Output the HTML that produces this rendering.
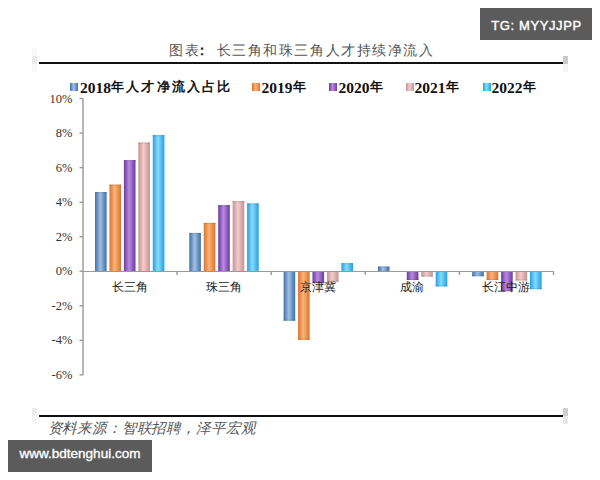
<!DOCTYPE html>
<html><head><meta charset="utf-8">
<style>
html,body{margin:0;padding:0;background:#fff;}
body{width:600px;height:480px;position:relative;overflow:hidden;font-family:"Liberation Serif",serif;}
.abs{position:absolute;}
.tg{position:absolute;left:480px;top:8px;width:112px;height:32px;background:#5b5b5b;color:#fff;font-family:"Liberation Sans",sans-serif;font-weight:normal;font-size:13px;line-height:35px;text-align:center;letter-spacing:0.6px;text-indent:1px;-webkit-text-stroke:0.4px #fff;}
.wm{position:absolute;left:8px;top:440px;width:144px;height:32px;background:#5b5b5b;color:#fff;font-family:"Liberation Sans",sans-serif;font-weight:normal;font-size:13.5px;line-height:28.5px;text-align:center;-webkit-text-stroke:0.35px #fff;}
.title{position:absolute;left:169px;top:43px;font-size:14px;line-height:16px;color:#555;letter-spacing:1.55px;font-weight:350;white-space:nowrap;}
.hl{position:absolute;left:39px;width:524px;height:2px;background:#111;}
.gm{position:absolute;width:5px;}
.yl{position:absolute;left:0;width:72.3px;text-align:right;font-size:12.5px;line-height:14px;color:#333;}
.cl{position:absolute;top:280px;width:80px;text-align:center;font-size:12px;line-height:14px;color:#222;letter-spacing:0px;font-weight:500;}
.lg{position:absolute;top:79px;font-size:15.5px;line-height:16px;font-weight:bold;color:#111;white-space:nowrap;}
.cj{font-size:13px;letter-spacing:2.2px;vertical-align:1.5px;}
.sq{position:absolute;top:82.5px;width:8px;height:8px;}
.src{position:absolute;left:47.5px;top:419.8px;font-size:14.5px;letter-spacing:-0.15px;line-height:16px;color:#555;font-style:italic;font-weight:350;white-space:nowrap;}
</style></head><body>
<div class="tg">TG: MYYJJPP</div>
<div class="title">图表<span style="position:relative;left:-5px;margin-right:1px;font-weight:bold;color:#222">：</span>长三角和珠三角人才持续净流入</div>
<div class="gm" style="left:32px;top:48px;height:24px;background:#f8f8f8"></div>
<div class="gm" style="left:32px;top:56px;height:8px;background:#ebebeb"></div>
<div class="gm" style="left:563px;top:64px;height:8px;background:#f5f5f5"></div>
<div class="gm" style="left:563px;top:56px;height:8px;background:#cacaca"></div>
<div class="hl" style="top:62px"></div>

<div class="sq" style="left:70px;background:linear-gradient(90deg,#3f6fae,#a0c0e0 45%,#3f6fae)"></div>
<div class="lg" style="left:80px">2018<span class="cj">年人才净流入占比</span></div>
<div class="sq" style="left:252px;background:linear-gradient(90deg,#dc742a,#fab47e 45%,#dc742a)"></div>
<div class="lg" style="left:261.5px">2019<span class="cj">年</span></div>
<div class="sq" style="left:329px;background:linear-gradient(90deg,#6a3a9e,#ba8ae2 45%,#6a3a9e)"></div>
<div class="lg" style="left:338.5px">2020<span class="cj">年</span></div>
<div class="sq" style="left:405.5px;background:linear-gradient(90deg,#c49294,#f4cccc 45%,#c49294)"></div>
<div class="lg" style="left:414.5px">2021<span class="cj">年</span></div>
<div class="sq" style="left:482.5px;background:linear-gradient(90deg,#24a0e0,#86dcff 45%,#24a0e0)"></div>
<div class="lg" style="left:491.5px">2022<span class="cj">年</span></div>

<div class="yl" style="top:91.50px">10%</div><div class="yl" style="top:126.05px">8%</div><div class="yl" style="top:160.60px">6%</div><div class="yl" style="top:195.15px">4%</div><div class="yl" style="top:229.70px">2%</div><div class="yl" style="top:264.25px">0%</div><div class="yl" style="top:298.80px">-2%</div><div class="yl" style="top:333.35px">-4%</div><div class="yl" style="top:367.90px">-6%</div>
<svg class="abs" style="left:0;top:0" width="600" height="480" viewBox="0 0 600 480">
<defs>
<linearGradient id="gb" x1="0" x2="1" y1="0" y2="0">
<stop offset="0" stop-color="#3f6fae"/><stop offset="0.45" stop-color="#a0c0e0"/><stop offset="1" stop-color="#3f6fae"/></linearGradient>
<linearGradient id="go" x1="0" x2="1" y1="0" y2="0">
<stop offset="0" stop-color="#dc742a"/><stop offset="0.45" stop-color="#fab47e"/><stop offset="1" stop-color="#dc742a"/></linearGradient>
<linearGradient id="gp" x1="0" x2="1" y1="0" y2="0">
<stop offset="0" stop-color="#6a3a9e"/><stop offset="0.45" stop-color="#ba8ae2"/><stop offset="1" stop-color="#6a3a9e"/></linearGradient>
<linearGradient id="gk" x1="0" x2="1" y1="0" y2="0">
<stop offset="0" stop-color="#c49294"/><stop offset="0.45" stop-color="#f4cccc"/><stop offset="1" stop-color="#c49294"/></linearGradient>
<linearGradient id="gc" x1="0" x2="1" y1="0" y2="0">
<stop offset="0" stop-color="#24a0e0"/><stop offset="0.45" stop-color="#86dcff"/><stop offset="1" stop-color="#24a0e0"/></linearGradient>
</defs>
<rect x="95.00" y="192.05" width="11.6" height="79.35" fill="url(#gb)"/><rect x="95.00" y="192.05" width="11.6" height="1.2" fill="url(#gb)" opacity="0.6" style="filter:brightness(0.85)"/><rect x="109.45" y="184.63" width="11.6" height="86.77" fill="url(#go)"/><rect x="109.45" y="184.63" width="11.6" height="1.2" fill="url(#go)" opacity="0.6" style="filter:brightness(0.85)"/><rect x="123.90" y="160.14" width="11.6" height="111.26" fill="url(#gp)"/><rect x="123.90" y="160.14" width="11.6" height="1.2" fill="url(#gp)" opacity="0.6" style="filter:brightness(0.85)"/><rect x="138.35" y="142.54" width="11.6" height="128.86" fill="url(#gk)"/><rect x="138.35" y="142.54" width="11.6" height="1.2" fill="url(#gk)" opacity="0.6" style="filter:brightness(0.85)"/><rect x="152.80" y="135.12" width="11.6" height="136.28" fill="url(#gc)"/><rect x="152.80" y="135.12" width="11.6" height="1.2" fill="url(#gc)" opacity="0.6" style="filter:brightness(0.85)"/><rect x="189.30" y="232.93" width="11.6" height="38.47" fill="url(#gb)"/><rect x="189.30" y="232.93" width="11.6" height="1.2" fill="url(#gb)" opacity="0.6" style="filter:brightness(0.85)"/><rect x="203.75" y="222.93" width="11.6" height="48.47" fill="url(#go)"/><rect x="203.75" y="222.93" width="11.6" height="1.2" fill="url(#go)" opacity="0.6" style="filter:brightness(0.85)"/><rect x="218.20" y="205.16" width="11.6" height="66.24" fill="url(#gp)"/><rect x="218.20" y="205.16" width="11.6" height="1.2" fill="url(#gp)" opacity="0.6" style="filter:brightness(0.85)"/><rect x="232.65" y="201.02" width="11.6" height="70.38" fill="url(#gk)"/><rect x="232.65" y="201.02" width="11.6" height="1.2" fill="url(#gk)" opacity="0.6" style="filter:brightness(0.85)"/><rect x="247.10" y="203.43" width="11.6" height="67.97" fill="url(#gc)"/><rect x="247.10" y="203.43" width="11.6" height="1.2" fill="url(#gc)" opacity="0.6" style="filter:brightness(0.85)"/><rect x="283.60" y="271.40" width="11.6" height="49.34" fill="url(#gb)"/><rect x="283.60" y="319.53" width="11.6" height="1.2" fill="url(#gb)" opacity="0.6" style="filter:brightness(0.85)"/><rect x="298.05" y="271.40" width="11.6" height="68.48" fill="url(#go)"/><rect x="298.05" y="338.68" width="11.6" height="1.2" fill="url(#go)" opacity="0.6" style="filter:brightness(0.85)"/><rect x="312.50" y="271.40" width="11.6" height="11.73" fill="url(#gp)"/><rect x="312.50" y="281.93" width="11.6" height="1.2" fill="url(#gp)" opacity="0.6" style="filter:brightness(0.85)"/><rect x="326.95" y="271.40" width="11.6" height="10.35" fill="url(#gk)"/><rect x="326.95" y="280.55" width="11.6" height="1.2" fill="url(#gk)" opacity="0.6" style="filter:brightness(0.85)"/><rect x="341.40" y="263.12" width="11.6" height="8.28" fill="url(#gc)"/><rect x="341.40" y="263.12" width="11.6" height="1.2" fill="url(#gc)" opacity="0.6" style="filter:brightness(0.85)"/><rect x="377.90" y="266.57" width="11.6" height="4.83" fill="url(#gb)"/><rect x="377.90" y="266.57" width="11.6" height="1.2" fill="url(#gb)" opacity="0.6" style="filter:brightness(0.85)"/><rect x="406.80" y="271.40" width="11.6" height="8.62" fill="url(#gp)"/><rect x="406.80" y="278.82" width="11.6" height="1.2" fill="url(#gp)" opacity="0.6" style="filter:brightness(0.85)"/><rect x="421.25" y="271.40" width="11.6" height="5.17" fill="url(#gk)"/><rect x="421.25" y="275.38" width="11.6" height="1.2" fill="url(#gk)" opacity="0.6" style="filter:brightness(0.85)"/><rect x="435.70" y="271.40" width="11.6" height="15.01" fill="url(#gc)"/><rect x="435.70" y="285.21" width="11.6" height="1.2" fill="url(#gc)" opacity="0.6" style="filter:brightness(0.85)"/><rect x="472.20" y="271.40" width="11.6" height="4.83" fill="url(#gb)"/><rect x="472.20" y="275.03" width="11.6" height="1.2" fill="url(#gb)" opacity="0.6" style="filter:brightness(0.85)"/><rect x="486.65" y="271.40" width="11.6" height="8.62" fill="url(#go)"/><rect x="486.65" y="278.82" width="11.6" height="1.2" fill="url(#go)" opacity="0.6" style="filter:brightness(0.85)"/><rect x="501.10" y="271.40" width="11.6" height="19.84" fill="url(#gp)"/><rect x="501.10" y="290.04" width="11.6" height="1.2" fill="url(#gp)" opacity="0.6" style="filter:brightness(0.85)"/><rect x="515.55" y="271.40" width="11.6" height="9.14" fill="url(#gk)"/><rect x="515.55" y="279.34" width="11.6" height="1.2" fill="url(#gk)" opacity="0.6" style="filter:brightness(0.85)"/><rect x="530.00" y="271.40" width="11.6" height="17.77" fill="url(#gc)"/><rect x="530.00" y="287.97" width="11.6" height="1.2" fill="url(#gc)" opacity="0.6" style="filter:brightness(0.85)"/>
<g stroke="#999" stroke-width="1.4">
<line x1="83" y1="98.5" x2="83" y2="374.9"/>
<line x1="83" y1="271.5" x2="553.5" y2="271.5" stroke-width="1"/>
<line x1="79.5" y1="98.50" x2="83" y2="98.50"/><line x1="79.5" y1="133.05" x2="83" y2="133.05"/><line x1="79.5" y1="167.60" x2="83" y2="167.60"/><line x1="79.5" y1="202.15" x2="83" y2="202.15"/><line x1="79.5" y1="236.70" x2="83" y2="236.70"/><line x1="79.5" y1="271.25" x2="83" y2="271.25"/><line x1="79.5" y1="305.80" x2="83" y2="305.80"/><line x1="79.5" y1="340.35" x2="83" y2="340.35"/><line x1="79.5" y1="374.90" x2="83" y2="374.90"/>
<line x1="177.10" y1="271.5" x2="177.10" y2="275"/><line x1="271.20" y1="271.5" x2="271.20" y2="275"/><line x1="365.30" y1="271.5" x2="365.30" y2="275"/><line x1="459.40" y1="271.5" x2="459.40" y2="275"/><line x1="553.50" y1="271.5" x2="553.50" y2="275"/>
</g>
</svg>
<div class="cl" style="left:90.05px">长三角</div><div class="cl" style="left:184.15px">珠三角</div><div class="cl" style="left:278.25px">京津冀</div><div class="cl" style="left:372.35px">成渝</div><div class="cl" style="left:466.45px">长江中游</div>

<div class="gm" style="left:32px;top:416px;height:8px;background:#f6f6f6"></div>
<div class="gm" style="left:32px;top:408px;height:8px;background:#ececec"></div>
<div class="gm" style="left:563px;top:416px;height:8px;background:#e8e8e8"></div>
<div class="gm" style="left:563px;top:408px;height:8px;background:#cfcfcf"></div>
<div class="hl" style="top:414.5px"></div>
<div class="src">资料来源：智联招聘，泽平宏观</div>
<div class="wm">www.bdtenghui.com</div>
</body></html>
